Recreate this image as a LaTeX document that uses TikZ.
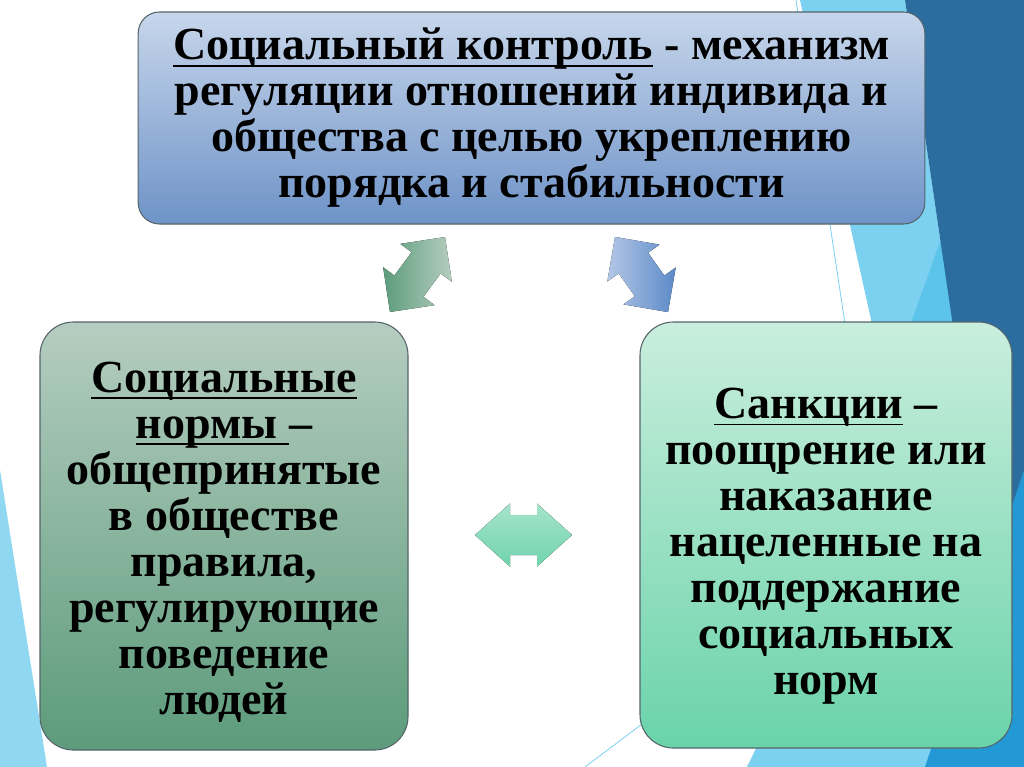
\documentclass[tikz,border=0pt]{standalone}
\usepackage{fontspec}
\setmainfont{Liberation Serif}[BoldFont={Liberation Serif Bold}]
\definecolor{deepblue}{HTML}{2C6D9F}
\definecolor{skyblue}{HTML}{7CD0F0}
\definecolor{midblue}{HTML}{5CC3EA}
\definecolor{brightblue}{HTML}{2298D4}
\definecolor{boxedge}{HTML}{55656B}
\newcommand{\undr}[1]{\setbox0\hbox{#1}\rlap{\rule[-5pt]{\wd0}{1.4pt}}\box0\relax}
% double block arrow: length, head half width, head length, shaft half width (px)
\newcommand{\twoway}[4]{(-#1/2,0) -- (-#1/2+#3,#2) -- (-#1/2+#3,#4) -- (#1/2-#3,#4)
  -- (#1/2-#3,#2) -- (#1/2,0) -- (#1/2-#3,-#2) -- (#1/2-#3,-#4) -- (-#1/2+#3,-#4)
  -- (-#1/2+#3,-#2) -- cycle}

\begin{document}
\begin{tikzpicture}[x=0.75pt,y=-0.75pt,
    card/.style={draw=boxedge,line width=0.8pt,align=center,inner sep=0pt,
      font=\bfseries\fontsize{34.5}{34.5}\selectfont}]
  \useasboundingbox (0,0) rectangle (1024,767);
  % background
  \fill[skyblue] (800,0) -- (905,0) -- (955,340) -- (1024,430) -- (1024,767)
    -- (747,767) -- (900,450) -- cycle;
  \fill[midblue] (955,200) -- (955,345) -- (905,340) -- cycle;
  \fill[deepblue] (905,0) -- (1024,0) -- (1024,560) -- (955,340) -- cycle;
  \fill[brightblue] (1024,470) -- (1024,767) -- (925,767) -- cycle;
  \fill[skyblue!85!white] (0,470) -- (0,767) -- (47,767) -- cycle;
  \draw[skyblue,line width=0.6pt] (796,0) -- (852,370);
  \draw[skyblue,line width=0.6pt] (585,767) -- (650,718);

  \node[card,rounded corners=16pt,
    top color={rgb,255:red,199;green,214;blue,235},
    bottom color={rgb,255:red,110;green,147;blue,200},
    minimum width=590pt,minimum height=159pt] (control) at (531.5,118)
    {\undr{Социальный контроль} - механизм\\ регуляции отношений индивида и\\
     общества с целью укреплению\\ порядка и стабильности};
  \node[card,rounded corners=25pt,
    top color={rgb,255:red,181;green,205;blue,192},
    bottom color={rgb,255:red,92;green,155;blue,123},
    minimum width=276pt,minimum height=321pt] (norms) at (224,536)
    {\rule{0pt}{32pt}\undr{Социальные}\\ \undr{нормы\ }–\\ общепринятые\\ в обществе\\
     правила,\\ регулирующие\\ поведение\\ людей};
  \node[card,rounded corners=25pt,
    top color={rgb,255:red,201;green,238;blue,221},
    bottom color={rgb,255:red,106;green,211;blue,170},
    minimum width=279pt,minimum height=319.5pt] (sanctions) at (826,535)
    {\rule{0pt}{40pt}\undr{Санкции} –\\ поощрение или\\ наказание\\ нацеленные на\\
     поддержание\\ социальных\\ норм};

  \begin{scope}[shift={(417.5,274.5)},rotate=53.7]
    \fill[left color={rgb,255:red,92;green,156;blue,124},
      right color={rgb,255:red,182;green,205;blue,191}] \twoway{93}{32}{32}{18};
  \end{scope}
  \begin{scope}[shift={(641.5,274.5)},rotate=-54.8]
    \fill[left color={rgb,255:red,180;green,199;blue,230},
      right color={rgb,255:red,91;green,138;blue,200}] \twoway{92}{32}{32}{18};
  \end{scope}
  \begin{scope}[shift={(523.5,535)}]
    \fill[top color={rgb,255:red,166;green,227;blue,204},
      bottom color={rgb,255:red,112;green,212;blue,173}] \twoway{97}{31.5}{35}{20};
  \end{scope}
\end{tikzpicture}
\end{document}
